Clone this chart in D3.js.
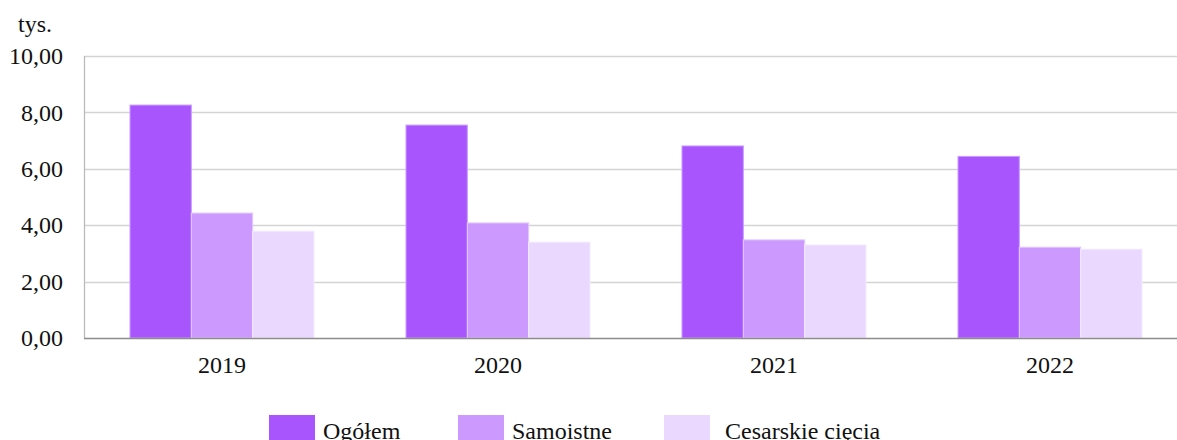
<!DOCTYPE html>
<html><head><meta charset="utf-8">
<script src="https://cdn.jsdelivr.net/npm/d3@7"></script>
<style>body{margin:0;background:#fff;}svg text{font-family:'Liberation Serif','Times New Roman',Times,serif !important;}</style>
</head><body>
<svg id="c" width="1177" height="440"></svg>
<script>
const categories = ["2019", "2020", "2021", "2022"];
const seriesNames = ["Ogółem", "Samoistne", "Cesarskie cięcia"];
const ogolem = [8.26, 7.55, 6.81, 6.44];
const samoistne = [4.43, 4.08, 3.48, 3.22];
const cesarskie = [3.79, 3.40, 3.30, 3.15];
const yTicks = [0, 2, 4, 6, 8, 10];
const colors = ["#a855fe", "#cc99fe", "#ead8fe"];
const strokes = ["#c89cff", "#e2c8ff", "#f4eaff"];
const series = [ogolem, samoistne, cesarskie];

const svg = d3.select("#c");
const L = 84, R = 1177, T = 56, B = 338;
const x0 = d3.scaleBand().domain(categories).range([L, L + 4 * 276]).paddingInner(1 / 3).paddingOuter(1 / 6);
const x1 = d3.scaleBand().domain(d3.range(3)).range([0, x0.bandwidth()]);
const y = d3.scaleLinear().domain([0, 10]).range([B, T]);
const fmt = v => d3.format(".2f")(v).replace(".", ",");
const FS = 24;

// gridlines
svg.append("g").selectAll("line").data(yTicks.filter(d => d > 0)).join("line")
  .attr("x1", L).attr("x2", R).attr("y1", d => Math.round(y(d)) + 0.5).attr("y2", d => Math.round(y(d)) + 0.5)
  .attr("stroke", "#d4d4d4").attr("stroke-width", 1.3);

// left axis line
svg.append("line").attr("x1", L + 0.5).attr("x2", L + 0.5).attr("y1", T).attr("y2", B)
  .attr("stroke", "#bbbbbb").attr("stroke-width", 1.3);

// y tick labels
const yAxis = d3.axisLeft(y).tickValues(yTicks).tickFormat(fmt).tickSize(0).tickPadding(21);
const ga = svg.append("g").attr("transform", `translate(${L},0)`).call(yAxis);
ga.select(".domain").remove();
ga.selectAll("text").attr("font-size", FS).attr("fill", "#111");

// bars
const g = svg.append("g");
series.forEach((vals, si) => {
  g.append("g").selectAll("rect").data(vals).join("rect")
    .attr("x", (d, i) => x0(categories[i]) + x1(si))
    .attr("y", d => y(d))
    .attr("width", x1.bandwidth())
    .attr("height", d => B - y(d))
    .attr("fill", colors[si])
    .attr("stroke", strokes[si]).attr("stroke-width", 1);
});

// x axis line
svg.append("line").attr("x1", L).attr("x2", R).attr("y1", B + 0.5).attr("y2", B + 0.5)
  .attr("stroke", "#8c8c8c").attr("stroke-width", 1.5);

// x labels
const xAxis = d3.axisBottom(x0).tickSize(0).tickPadding(18);
const gx = svg.append("g").attr("transform", `translate(0,${B})`).call(xAxis);
gx.select(".domain").remove();
gx.selectAll("text").attr("font-size", FS).attr("fill", "#111");

// unit label
svg.append("text").attr("x", 18).attr("y", 31.5).attr("font-size", FS).attr("fill", "#111").text("tys.");

// legend
const legX = [269, 458, 664];
const legTX = [323, 512, 725];
seriesNames.forEach((n, i) => {
  svg.append("rect").attr("x", legX[i]).attr("y", 415).attr("width", 46).attr("height", 26).attr("fill", colors[i]);
  svg.append("text").attr("x", legTX[i]).attr("y", 439).attr("font-size", FS).attr("fill", "#111").text(n);
});
</script>
</body></html>
